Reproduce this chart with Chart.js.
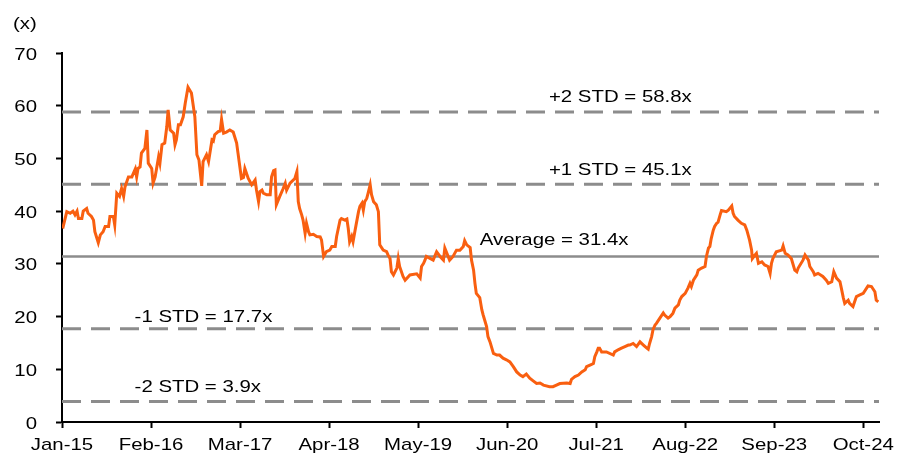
<!DOCTYPE html>
<html>
<head>
<meta charset="utf-8">
<script src="https://cdn.jsdelivr.net/npm/chart.js@4.4.1/dist/chart.umd.min.js"></script>
<style>
  body { margin: 0; background: #fff; }
  #wrap { width: 911px; height: 461px; }
</style>
</head>
<body>
<div id="wrap"><canvas id="chart"></canvas></div>
<script>
  // months since Jan-15, and P/E multiple
  var months = [
    0.1, 0.7, 1.2, 1.6, 1.9, 2.2, 2.4, 2.9, 3.1, 3.6,
    3.8, 4.3, 4.6, 4.8, 5.3, 5.6, 6.0, 6.3, 6.8, 7.0,
    7.5, 7.7, 8.0, 8.4, 8.7, 9.0, 9.2, 9.7, 10.2, 10.7,
    10.9, 11.1, 11.4, 11.6, 12.1, 12.4, 12.6, 13.1, 13.3, 13.6,
    13.8, 14.1, 14.3, 14.6, 15.0, 15.3, 15.5, 15.8, 16.3, 16.5,
    16.7, 17.0, 17.3, 17.7, 18.0, 18.4, 18.9, 19.4, 19.7, 20.0,
    20.4, 20.6, 21.1, 21.4, 21.9, 22.1, 22.3, 22.8, 23.1, 23.3,
    23.6, 24.0, 24.5, 25.0, 25.5, 25.7, 26.2, 26.5, 26.7, 27.2,
    27.7, 28.2, 28.4, 28.7, 28.9, 29.2, 29.4, 29.9, 30.4, 30.6,
    30.9, 31.1, 31.3, 31.8, 32.3, 32.6, 32.8, 33.3, 34.0, 34.3,
    34.5, 34.7, 35.0, 35.2, 35.5, 35.7, 36.0, 36.2, 36.7, 37.2,
    37.7, 37.9, 38.2, 38.6, 39.1, 39.4, 39.9, 40.1, 40.6, 40.8,
    41.3, 41.6, 41.8, 42.0, 42.3, 42.5, 42.8, 43.3, 43.5, 43.8,
    44.0, 44.2, 44.5, 44.7, 45.0, 45.2, 45.5, 45.9, 46.2, 46.4,
    46.9, 47.4, 47.6, 47.9, 48.1, 48.4, 48.9, 49.1, 49.3, 49.8,
    50.1, 50.8, 51.8, 52.3, 52.5, 52.8, 53.0, 53.2, 54.2, 54.7,
    55.2, 55.7, 55.9, 56.6, 57.1, 57.6, 58.1, 58.6, 58.8, 59.1,
    59.6, 59.8, 60.1, 60.3, 60.5, 61.0, 61.3, 61.5, 62.0, 62.2,
    62.5, 63.0, 63.5, 63.9, 64.4, 64.9, 65.4, 65.9, 66.4, 66.9,
    67.3, 67.8, 68.3, 68.8, 69.3, 69.8, 70.3, 71.2, 71.7, 72.2,
    72.7, 73.7, 74.2, 74.4, 74.9, 75.4, 75.9, 76.4, 76.6, 77.1,
    77.6, 77.8, 78.1, 78.3, 78.5, 78.8, 79.5, 80.5, 80.7, 81.2,
    81.7, 82.2, 82.7, 82.9, 83.4, 83.9, 84.4, 84.9, 85.4, 85.6,
    85.8, 86.1, 86.3, 86.6, 86.8, 87.3, 87.8, 88.0, 88.5, 88.8,
    89.2, 89.5, 90.0, 90.2, 90.5, 91.0, 91.4, 91.7, 91.9, 92.2,
    92.7, 92.9, 93.4, 93.9, 94.1, 94.4, 94.6, 94.8, 95.1, 95.3,
    95.6, 95.8, 96.1, 96.3, 97.0, 97.3, 97.8, 98.0, 98.2, 98.7,
    99.2, 99.7, 100.0, 100.4, 100.7, 100.8, 101.2, 101.4, 101.7, 102.2,
    102.6, 103.1, 103.4, 103.6, 103.8, 104.3, 105.1, 105.3, 105.6, 106.0,
    106.5, 107.0, 107.3, 107.5, 108.2, 108.5, 109.0, 109.2, 109.7, 109.9,
    110.4, 111.1, 111.6, 111.9, 112.4, 112.7, 113.1, 113.6, 113.8, 114.1,
    114.3, 114.8, 115.0, 115.5, 116.0, 116.5, 117.0, 117.7, 118.2, 118.7,
    118.9, 119.2
  ];
  var pe = [
    36.7, 39.9, 39.6, 40.0, 39.3, 40.0, 38.6, 38.6, 40.0, 40.5,
    39.6, 39.0, 38.3, 36.1, 34.0, 35.5, 36.1, 37.1, 37.1, 39.0,
    39.0, 37.4, 43.4, 42.8, 44.3, 42.8, 44.6, 46.5, 46.5, 48.0,
    46.5, 48.1, 48.4, 51.0, 51.9, 55.4, 49.1, 48.1, 45.3, 46.5,
    48.0, 50.3, 49.1, 52.6, 52.9, 56.0, 59.2, 55.4, 54.8, 52.6,
    53.5, 56.4, 56.4, 57.9, 60.5, 63.5, 62.4, 57.9, 50.7, 49.7,
    44.8, 49.4, 50.7, 49.4, 53.5, 53.3, 54.5, 55.1, 55.2, 57.4,
    54.8, 55.0, 55.4, 55.0, 52.9, 51.0, 46.2, 46.4, 48.1, 46.2,
    45.0, 45.9, 44.0, 41.8, 43.7, 44.0, 43.4, 43.1, 43.1, 46.5,
    47.7, 47.8, 41.2, 42.8, 44.3, 45.3, 44.0, 45.3, 46.2, 47.5,
    41.8, 40.5, 39.3, 38.3, 35.8, 37.7, 36.1, 35.5, 35.6, 35.2,
    35.1, 34.5, 31.4, 32.3, 32.6, 33.3, 33.3, 35.2, 38.3, 38.6,
    38.3, 38.5, 36.7, 34.2, 35.2, 34.2, 36.4, 39.9, 40.9, 41.5,
    40.2, 41.8, 42.4, 43.4, 45.0, 43.1, 41.8, 41.2, 39.9, 33.6,
    32.6, 32.3, 31.7, 31.0, 28.5, 27.9, 29.2, 31.0, 29.5, 27.6,
    26.9, 27.9, 28.1, 27.3, 29.5, 30.1, 30.7, 31.4, 30.7, 32.3,
    31.4, 30.7, 33.0, 30.7, 31.4, 32.6, 32.6, 33.3, 34.4, 33.6,
    33.1, 30.7, 28.8, 26.3, 24.4, 23.6, 21.3, 20.3, 18.1, 16.2,
    15.2, 13.0, 12.7, 12.7, 12.1, 11.8, 11.4, 10.5, 9.5, 8.9,
    8.6, 9.1, 8.3, 7.8, 7.3, 7.4, 7.0, 6.7, 6.7, 7.0,
    7.3, 7.4, 7.3, 8.1, 8.6, 8.9, 9.5, 9.9, 10.5, 10.8,
    11.1, 12.4, 13.3, 14.0, 14.0, 13.3, 13.3, 12.7, 13.3, 13.7,
    14.0, 14.3, 14.6, 14.6, 14.9, 14.3, 15.2, 14.6, 14.0, 13.8,
    14.9, 16.2, 17.5, 18.4, 18.7, 19.7, 20.7, 20.3, 19.7, 20.0,
    20.6, 21.6, 22.2, 23.1, 23.8, 24.4, 25.4, 26.3, 25.7, 26.9,
    27.9, 28.8, 29.2, 29.5, 31.4, 33.0, 33.3, 34.8, 36.4, 37.1,
    37.7, 37.9, 39.3, 40.1, 39.9, 40.2, 41.0, 39.6, 39.0, 38.3,
    37.7, 37.4, 36.4, 34.5, 32.6, 31.0, 31.7, 32.0, 30.1, 30.4,
    29.8, 29.5, 28.2, 30.1, 31.0, 32.3, 32.6, 33.4, 32.0, 31.7,
    31.0, 28.8, 28.5, 29.2, 30.7, 31.7, 30.7, 29.5, 28.5, 27.9,
    28.2, 27.6, 26.9, 26.3, 26.6, 28.5, 27.3, 26.6, 25.4, 23.5,
    22.5, 23.1, 22.5, 21.9, 23.8, 24.1, 24.4, 25.8, 25.7, 24.7,
    23.1, 22.8
  ];

  var tickMonths = [0, 13, 26, 39, 52, 65, 78, 91, 104, 117];
  var tickLabels = ['Jan-15', 'Feb-16', 'Mar-17', 'Apr-18', 'May-19', 'Jun-20', 'Jul-21', 'Aug-22', 'Sep-23', 'Oct-24'];
  var yTicks = [0, 10, 20, 30, 40, 50, 60, 70];

  var stdLevels = [58.8, 45.1, 31.4, 17.7, 3.9];
  var stdNames = ['+2 STD = 58.8x', '+1 STD = 45.1x', 'Average = 31.4x', '-1 STD = 17.7x', '-2 STD = 3.9x'];
  var xEnd = 119.3;

  var FONT = "'Liberation Sans', Arial, sans-serif";
  var STRETCH = 1.2; // the source text is a bit wide

  function wideText(ctx, txt, x, y, align) {
    ctx.save();
    ctx.translate(x, y);
    ctx.scale(STRETCH, 1);
    ctx.textAlign = align;
    ctx.fillText(txt, 0, 0);
    ctx.restore();
  }

  // axis labels, std line labels and "(x)"
  var textPlugin = {
    id: 'textPlugin',
    afterDraw: function(chart) {
      var ctx = chart.ctx, xs = chart.scales.x, ys = chart.scales.y;
      var startAt = [71.1, 71.1, 61.0, 10.6, 10.6];
      var lift = [10, 9, 11, 7, 9];
      ctx.save();
      ctx.font = '17px ' + FONT;
      ctx.fillStyle = '#000';
      ctx.textBaseline = 'alphabetic';
      for (var i = 0; i < stdNames.length; i++) {
        wideText(ctx, stdNames[i], xs.getPixelForValue(startAt[i]), ys.getPixelForValue(stdLevels[i]) - lift[i], 'left');
      }
      tickMonths.forEach(function(m, i) {
        wideText(ctx, tickLabels[i], xs.getPixelForValue(m), ys.bottom + 28, 'center');
      });
      yTicks.forEach(function(v) {
        wideText(ctx, String(v), 37, ys.getPixelForValue(v) + 6.5, 'right');
      });
      wideText(ctx, '(x)', 13, 29, 'left');
      ctx.restore();
    }
  };

  var datasets = [{
    data: months.map(function(m, i) { return { x: m, y: pe[i] }; }),
    borderColor: '#f95f10',
    borderWidth: 3,
    pointRadius: 0,
    tension: 0
  }];

  stdLevels.forEach(function(lvl, i) {
    datasets.push({
      data: [{ x: 0, y: lvl }, { x: xEnd, y: lvl }],
      borderColor: '#8c8c8c',
      borderWidth: i == 2 ? 2.5 : 3,
      borderDash: i == 2 ? [] : [19, 10],
      pointRadius: 0
    });
  });

  new Chart(document.getElementById('chart'), {
    type: 'line',
    data: { datasets: datasets },
    options: {
      responsive: true,
      maintainAspectRatio: false,
      animation: false,
      layout: { padding: { top: 53, right: 32, bottom: 0, left: 0 } },
      plugins: { legend: { display: false }, tooltip: { enabled: false } },
      scales: {
        x: {
          type: 'linear',
          min: 0,
          max: xEnd,
          afterBuildTicks: function(s) { s.ticks = tickMonths.map(function(v) { return { value: v }; }); },
          afterFit: function(s) { s.height = 39; },
          ticks: {
            autoSkip: false,
            maxRotation: 0,
            padding: 6,
            color: 'rgba(0,0,0,0)',
            font: { family: FONT, size: 17 },
            callback: function(v) {
              var i = tickMonths.indexOf(v);
              return i < 0 ? '' : tickLabels[i];
            }
          },
          grid: { drawOnChartArea: false, tickLength: 6, tickColor: '#000', tickWidth: 2 },
          border: { color: '#000', width: 2 }
        },
        y: {
          min: 0,
          max: 70,
          afterFit: function(s) { s.width = 62; },
          ticks: {
            stepSize: 10,
            padding: 18,
            color: 'rgba(0,0,0,0)',
            font: { family: FONT, size: 17 }
          },
          grid: { drawOnChartArea: false, tickLength: 6, tickColor: '#000', tickWidth: 2 },
          border: { color: '#000', width: 2 }
        }
      }
    },
    plugins: [textPlugin]
  });
</script>
</body>
</html>
